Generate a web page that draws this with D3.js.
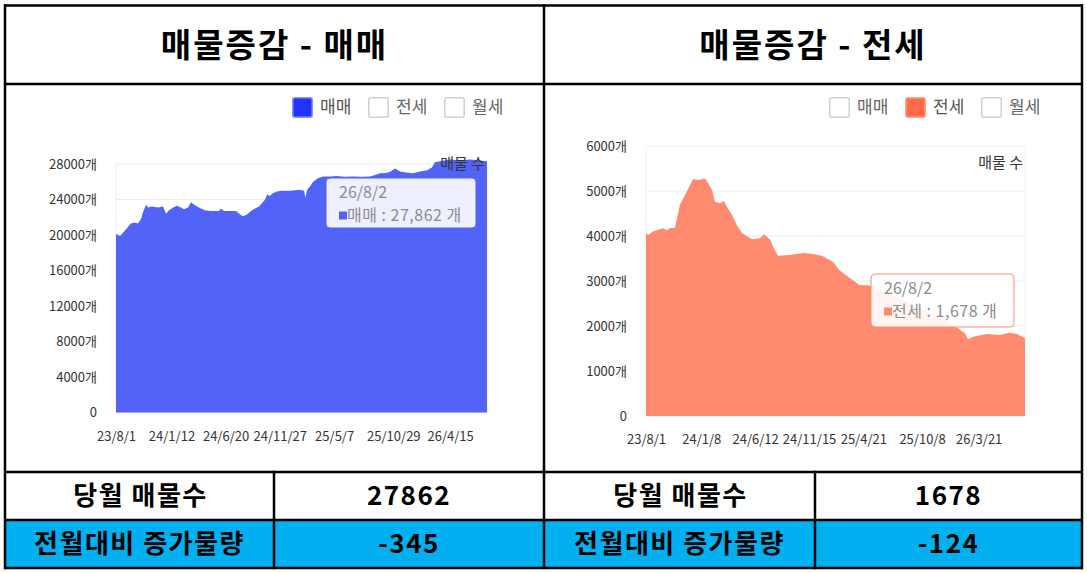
<!DOCTYPE html>
<html><head><meta charset="utf-8">
<script src="https://cdn.jsdelivr.net/npm/d3@7"></script>
<style>
body{margin:0;background:#fff;}
svg{display:block;font-family:"Noto Sans CJK KR","Noto Sans",sans-serif;}
</style>
</head><body>
<svg id="c" width="1087" height="573"></svg>
<script>
// ---------- DATA ----------
const titles = ["매물증감 - 매매", "매물증감 - 전세"];
const legendItems = ["매매", "전세", "월세"];
const tableLabels = ["당월 매물수", "전월대비 증가물량"];
const saleSummary = [27862, -345];
const jeonseSummary = [1678, -124];
const tooltipDate = "26/8/2";
const saleTooltipValue = "27,862";
const jeonseTooltipValue = "1,678";
const unitLabel = "매물 수";

const saleDates = ["2023-08-01","2023-08-13","2023-08-25","2023-09-03","2023-09-14","2023-09-26","2023-10-05","2023-10-14","2023-10-20","2023-10-29","2023-11-04","2023-11-15","2023-12-03","2023-12-18","2023-12-27","2024-01-05","2024-01-17","2024-01-28","2024-02-09","2024-02-18","2024-03-01","2024-03-10","2024-03-19","2024-03-28","2024-04-08","2024-04-20","2024-05-05","2024-05-17","2024-06-01","2024-06-06","2024-06-15","2024-07-03","2024-07-21","2024-08-02","2024-08-11","2024-08-22","2024-09-03","2024-09-15","2024-09-27","2024-10-06","2024-10-15","2024-10-21","2024-10-29","2024-11-07","2024-11-19","2024-12-01","2024-12-28","2025-01-26","2025-02-07","2025-02-11","2025-02-16","2025-02-25","2025-03-06","2025-03-20","2025-04-04","2025-04-25","2025-05-15","2025-06-08","2025-07-02","2025-07-28","2025-08-21","2025-09-08","2025-09-20","2025-10-05","2025-10-19","2025-11-03","2025-11-18","2025-12-05","2025-12-26","2026-01-16","2026-02-06","2026-02-20","2026-03-01","2026-03-16","2026-04-15","2026-05-14","2026-06-13","2026-07-12","2026-08-02"];
const saleValues = [20100,19900,20400,20800,21300,21400,21300,21800,22600,23400,23100,23200,23100,23200,22400,22800,23100,23300,23100,22900,23100,23700,23400,23200,23000,22800,22700,22700,22700,23000,22700,22700,22700,22300,22100,22300,22700,23000,23200,23600,24000,24600,24400,24700,24900,25000,25000,25100,25000,24200,25100,25500,26000,26400,26600,26600,26650,26550,26600,26550,26600,26800,26950,27000,27100,27500,27150,27050,26950,27150,27300,27600,28200,28300,28500,28400,28500,28400,28300];

const jeonseDates = ["2023-08-01","2023-08-07","2023-08-21","2023-09-11","2023-09-19","2023-10-01","2023-10-09","2023-10-24","2023-10-30","2023-11-07","2023-11-22","2023-12-06","2023-12-15","2024-01-04","2024-01-19","2024-01-27","2024-02-08","2024-02-17","2024-03-02","2024-03-14","2024-03-22","2024-04-06","2024-04-20","2024-05-05","2024-05-19","2024-06-03","2024-06-26","2024-07-07","2024-07-25","2024-08-03","2024-08-17","2024-09-21","2024-10-28","2024-11-26","2024-12-22","2025-01-23","2025-02-11","2025-03-21","2025-04-10","2025-05-09","2025-06-07","2025-07-22","2025-09-03","2025-10-16","2025-11-29","2025-12-28","2026-01-20","2026-02-09","2026-02-18","2026-03-04","2026-04-14","2026-05-21","2026-06-19","2026-07-10","2026-08-02"];
const jeonseValues = [4060,4020,4100,4150,4170,4130,4170,4190,4400,4690,4910,5130,5260,5250,5280,5190,5020,4760,4730,4780,4650,4470,4240,4060,4000,3930,3950,4040,3920,3760,3560,3580,3620,3600,3560,3430,3240,3020,2910,2900,2800,2650,2500,2350,2200,2050,1950,1840,1700,1760,1820,1800,1850,1820,1730];

const saleTickDates = ["2023-08-01","2024-01-12","2024-06-20","2024-11-27","2025-05-07","2025-10-29","2026-04-15"];
const saleTickLabels = ["23/8/1","24/1/12","24/6/20","24/11/27","25/5/7","25/10/29","26/4/15"];
const jeonseTickDates = ["2023-08-01","2024-01-08","2024-06-12","2024-11-15","2025-04-21","2025-10-08","2026-03-21"];
const jeonseTickLabels = ["23/8/1","24/1/8","24/6/12","24/11/15","25/4/21","25/10/8","26/3/21"];
const saleYTicks = [0,4000,8000,12000,16000,20000,24000,28000];
const jeonseYTicks = [0,1000,2000,3000,4000,5000,6000];
const dateRange = ["2023-08-01","2026-08-02"];

// ---------- DRAW ----------
const svg = d3.select("#c");
const parse = d3.utcParse("%Y-%m-%d");

function drawChart(cfg) {
  const g = svg.append("g");
  const x = d3.scaleUtc().domain(dateRange.map(parse)).range([cfg.left, cfg.right]);
  const y = d3.scaleLinear().domain([0, cfg.yMax]).range([cfg.bottom, cfg.top]);

  // grid
  g.selectAll("line.grid").data(cfg.yTicks).join("line")
    .attr("x1", cfg.left).attr("x2", cfg.right)
    .attr("y1", d => y(d)).attr("y2", d => y(d))
    .attr("stroke", "#ececec").attr("stroke-width", 1);
  g.append("line").attr("x1", cfg.left).attr("x2", cfg.left).attr("y1", cfg.top).attr("y2", cfg.bottom).attr("stroke", "#f0f0f0");
  g.append("line").attr("x1", cfg.right).attr("x2", cfg.right).attr("y1", cfg.top).attr("y2", cfg.bottom).attr("stroke", "#f0f0f0");

  const data = cfg.dates.map((d, i) => ({ d: parse(d), v: cfg.values[i] }));
  const area = d3.area().x(p => x(p.d)).y0(y(0)).y1(p => y(p.v));
  g.append("path").datum(data).attr("d", area).attr("fill", cfg.color);

  // y axis
  const ya = g.append("g").attr("transform", `translate(${cfg.left},0)`)
    .call(d3.axisLeft(y).tickValues(cfg.yTicks).tickSize(0).tickPadding(19)
      .tickFormat(d => d === 0 ? "0" : d + "개"));
  ya.select(".domain").remove();
  ya.selectAll("text").attr("font-size", 13).attr("fill", "#333").attr("font-family", "Noto Sans CJK KR");

  // x axis
  const tickMap = new Map(cfg.tickDates.map((d, i) => [+parse(d), cfg.tickLabels[i]]));
  const xa = g.append("g").attr("transform", `translate(0,${cfg.bottom})`)
    .call(d3.axisBottom(x).tickValues(cfg.tickDates.map(parse)).tickSize(0).tickPadding(cfg.xPad)
      .tickFormat(d => tickMap.get(+d)));
  xa.select(".domain").remove();
  xa.selectAll("text").attr("font-size", 13).attr("fill", "#333").attr("font-family", "Noto Sans CJK KR");

  // unit label
  g.append("text").attr("x", cfg.right - 2).attr("y", cfg.unitY).attr("text-anchor", "end")
    .attr("font-size", 15).attr("fill", "#333").text(unitLabel);

  // legend
  legendItems.forEach((name, i) => {
    const bx = cfg.legendX + i * 76;
    const active = i === cfg.activeLegend;
    g.append("rect").attr("x", bx + 0.75).attr("y", 97.75).attr("width", 19.5).attr("height", 19.5).attr("rx", 2)
      .attr("fill", active ? cfg.legendFill : "#fff")
      .attr("stroke", active ? cfg.legendStroke : "#d0d0d0").attr("stroke-width", 1.5);
    g.append("text").attr("x", bx + 28).attr("y", 107.5).attr("dy", "0.35em")
      .attr("font-size", 17).attr("fill", active ? "#555" : "#666").text(name);
  });

  // tooltip
  const t = cfg.tip;
  g.append("rect").attr("x", t.x).attr("y", t.y).attr("width", t.w).attr("height", t.h).attr("rx", 4)
    .attr("fill", "rgba(255,255,255,0.9)").attr("stroke", cfg.color).attr("stroke-width", 1);
  g.append("text").attr("x", t.x + 13).attr("y", t.y + 14.5).attr("dy", "0.35em")
    .attr("font-size", 16).attr("fill", "#8c8c8c").text(tooltipDate);
  g.append("rect").attr("x", t.x + 13).attr("y", t.y + 33.5).attr("width", 8).attr("height", 8).attr("fill", cfg.color);
  g.append("text").attr("x", t.x + 21).attr("y", t.y + 37.5).attr("dy", "0.35em")
    .attr("font-size", 16).attr("letter-spacing", 0.5).attr("fill", "#8c8c8c").text(cfg.tipLabel + " : " + cfg.tipValue + " 개");
}

drawChart({
  left: 116, right: 487, top: 164, bottom: 412.5, yMax: 28000, unitY: 169,
  yTicks: saleYTicks, dates: saleDates, values: saleValues, color: "#5264f8",
  tickDates: saleTickDates, tickLabels: saleTickLabels, xPad: 19,
  legendX: 292, activeLegend: 0, legendFill: "#2233ff", legendStroke: "#8a93ff",
  tip: { x: 326, y: 178, w: 150, h: 50 }, tipLabel: legendItems[0], tipValue: saleTooltipValue
});
drawChart({
  left: 646, right: 1025, top: 146, bottom: 416, yMax: 6000, unitY: 168,
  yTicks: jeonseYTicks, dates: jeonseDates, values: jeonseValues, color: "#ff8a70",
  tickDates: jeonseTickDates, tickLabels: jeonseTickLabels, xPad: 18.5,
  legendX: 829, activeLegend: 1, legendFill: "#ff6a4a", legendStroke: "#ffa58f",
  tip: { x: 871, y: 274, w: 143, h: 53 }, tipLabel: legendItems[1], tipValue: jeonseTooltipValue
});

// ---------- TABLE FRAME ----------
const frame = svg.append("g");
frame.append("rect").attr("x", 5).attr("y", 520).attr("width", 1077).attr("height", 48).attr("fill", "#00b0f0");
const hLines = [5.5, 84, 472, 520, 568];
const vLines = [[5, 5.5, 568], [544, 5.5, 568], [1082, 5.5, 568], [274, 472, 568], [815, 472, 568]];
hLines.forEach(yy => frame.append("line").attr("x1", 4).attr("x2", 1083).attr("y1", yy).attr("y2", yy)
  .attr("stroke", "#000").attr("stroke-width", 2.5));
vLines.forEach(([xx, y1, y2]) => frame.append("line").attr("x1", xx).attr("x2", xx).attr("y1", y1 - 1.25).attr("y2", y2 + 1.25)
  .attr("stroke", "#000").attr("stroke-width", 2.5));

// titles
[[274.5, titles[0]], [813, titles[1]]].forEach(([cx, txt]) => {
  frame.append("text").attr("x", cx).attr("y", 45).attr("dy", "0.35em").attr("text-anchor", "middle")
    .attr("font-size", 33).attr("font-weight", 700).attr("letter-spacing", 2).attr("fill", "#000").text(txt);
});

// table cells
const cells = [
  [140.5, 496, tableLabels[0]], [409, 496, String(saleSummary[0])],
  [139.5, 544, tableLabels[1]], [409, 544, String(saleSummary[1])],
  [680.5, 496, tableLabels[0]], [948.5, 496, String(jeonseSummary[0])],
  [679.5, 544, tableLabels[1]], [948.5, 544, String(jeonseSummary[1])]
];
cells.forEach(([cx, cy, txt]) => {
  frame.append("text").attr("x", cx).attr("y", cy).attr("dy", "0.35em").attr("text-anchor", "middle")
    .attr("font-size", 26).attr("font-weight", 700).attr("letter-spacing", 1.5).attr("fill", "#000").text(txt);
});
</script>
</body></html>
